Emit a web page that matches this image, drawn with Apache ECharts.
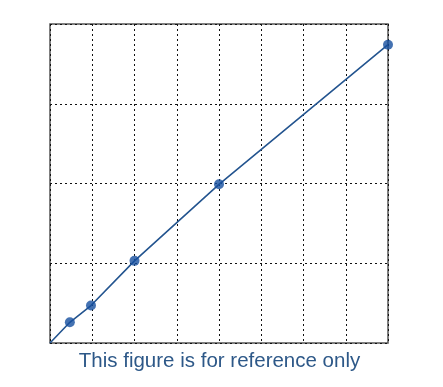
<!DOCTYPE html>
<html>
<head>
<meta charset="utf-8">
<style>
  html, body { margin: 0; padding: 0; background: #fff; }
  #chart { width: 443px; height: 387px; }
</style>
<script src="https://cdn.jsdelivr.net/npm/echarts@6/dist/echarts.min.js"></script>
</head>
<body>
<div id="chart"></div>
<script>
// Standard curve: concentration (x) vs. response (y)
const xValues = [0.47, 0.97, 2.0, 4.0, 8.0];
const yValues = [0.26, 0.47, 1.03, 1.99, 3.74];
// the curve starts from the origin
const curveStart = [0, 0];

const chart = echarts.init(document.getElementById('chart'), null, { renderer: 'canvas' });

const points = xValues.map((x, i) => [x, yValues[i]]);
const curve = [curveStart].concat(points);

const gridLine = { show: true, lineStyle: { color: '#111', type: [2, 3], width: 1 } };

chart.setOption({
  animation: false,
  grid: {
    left: 50, top: 24, width: 338, height: 319,
    show: true, borderColor: '#555', borderWidth: 1.5, backgroundColor: 'transparent'
  },
  xAxis: {
    type: 'value', min: 0, max: 8, interval: 1,
    axisLine: { show: false }, axisTick: { show: false }, axisLabel: { show: false },
    splitLine: gridLine
  },
  yAxis: {
    type: 'value', min: 0, max: 4, interval: 1,
    axisLine: { show: false }, axisTick: { show: false }, axisLabel: { show: false },
    splitLine: gridLine
  },
  series: [
    {
      type: 'line',
      data: curve,
      showSymbol: false,
      lineStyle: { color: '#23548f', width: 1.6 },
      z: 2
    },
    {
      type: 'scatter',
      data: points,
      symbol: 'circle',
      symbolSize: 10,
      itemStyle: { color: '#154f9f' },
      clip: false,
      z: 3
    }
  ],
  graphic: [{
    type: 'text',
    x: 219.5,
    y: 361,
    style: {
      text: 'This figure is for reference only',
      fill: '#2d5888',
      align: 'center',
      verticalAlign: 'middle',
      font: '20.5px "Liberation Sans", Arial, sans-serif'
    }
  }]
});
</script>
</body>
</html>
